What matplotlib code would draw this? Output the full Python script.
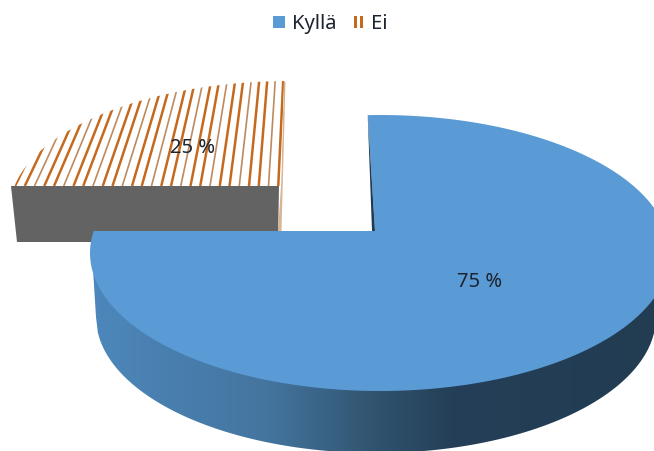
#!/usr/bin/env python3
import numpy as np
import matplotlib
matplotlib.use('Agg')
import matplotlib.pyplot as plt
from matplotlib.colors import LinearSegmentedColormap
from matplotlib.patches import Polygon, Rectangle

categories = ['Kyllä', 'Ei']
shares = [75, 25]
labels = ['75 %', '25 %']

plt.rcParams['font.family'] = ['Noto Sans', 'DejaVu Sans']

BLUE = '#5b9bd5'
ORANGE = '#c5691f'
TEXT = '#1c2430'


def ellipse_hit(vertex, ell, theta, lean):
    # ray from the slice tip out to the rim, theta clockwise from 12 o'clock
    cx, cy, rx, ry = ell
    dx = (np.sin(theta) + lean * np.cos(theta)) * rx
    dy = -np.cos(theta) * ry
    ox = (vertex[0] - cx) / rx
    oy = (vertex[1] - cy) / ry
    a = (dx / rx) ** 2 + (dy / ry) ** 2
    b = 2 * (ox * dx / rx + oy * dy / ry)
    c = ox ** 2 + oy ** 2 - 1
    t = (-b + np.sqrt(b ** 2 - 4 * a * c)) / (2 * a)
    return np.column_stack([vertex[0] + t * dx, vertex[1] + t * dy])


def slice_rim(vertex, ell, start, stop, lean):
    th = np.radians(np.linspace(start, stop, 200))
    return ellipse_hit(vertex, ell, th, lean)


fig = plt.figure(figsize=(6.54, 4.52), dpi=100)
ax = fig.add_axes([0, 0, 1, 1])
ax.set_xlim(0, 654)
ax.set_ylim(452, 0)
ax.axis('off')

blue_sweep = 360 * shares[0] / sum(shares)
ei_sweep = 360 * shares[1] / sum(shares)

# exploded slice (Ei)
ei_tip = (281, 187)
ei_ell = (290, 210, 280, 128)
ei_rim = slice_rim(ei_tip, ei_ell, blue_sweep, blue_sweep + ei_sweep, 0.013)
ei_poly = np.vstack([[ei_tip], ei_rim])

ax.add_patch(Polygon([(11, 187), (279, 187), (278, 243), (17, 243)],
                     fc='#636363', ec='none', zorder=2))
ax.add_patch(Polygon([ei_rim[-1], ei_rim[-1] + (1.5, 1), (281.5, 232), (278, 232), ei_tip],
                     fc='#d8b593', ec='none', zorder=2))
top = Polygon(ei_poly, fc='white', ec='none', zorder=3)
ax.add_patch(top)

# hatch lines lean toward one vanishing point
vp = (306, -401)
for i, x0 in enumerate(np.arange(15, 282, 9.75)):
    lw = 1.2 if i % 3 == 2 else 1.8
    col = '#bd8a60' if i % 3 == 2 else ORANGE
    ln, = ax.plot([x0, vp[0]], [187, vp[1]], color=col, lw=lw, zorder=4,
                  solid_capstyle='butt')
    ln.set_clip_path(top)

# main slice (Kyllä)
tip = (375, 232)
ell = (380, 254, 290, 138)
low = (376, 318, 280, 136)
rim = slice_rim(tip, ell, 0, blue_sweep, -0.03)

# side wall with left to right shading
xs = np.linspace(96, 654, 300)
low_y = low[1] + low[3] * np.sqrt(np.clip(1 - ((xs - low[0]) / low[2]) ** 2, 0, 1))
wall = Polygon(np.vstack([[(92, 254)], np.column_stack([xs, low_y]), [(656, 254)]]),
               fc='none', ec='none')
ax.add_patch(wall)
cmap = LinearSegmentedColormap.from_list('wall', [
    (0.0, '#4d87bb'), (0.31, '#44759f'), (0.5, '#31546f'),
    (0.64, '#243f57'), (1.0, '#223c52')])
im = ax.imshow(np.linspace(0, 1, 256)[None, :], cmap=cmap, extent=(92, 654, 452, 250),
               aspect='auto', zorder=5)
im.set_clip_path(wall)
ax.set_xlim(0, 654)
ax.set_ylim(452, 0)

ax.add_patch(Polygon(np.vstack([[tip], rim]), fc=BLUE, ec='none', zorder=6))
ax.add_patch(Polygon([rim[0], (372, 232), tip], fc='#1f3b54', ec='none', zorder=7))

ax.text(480, 282, labels[0], ha='center', va='center', fontsize=14.5, color=TEXT, zorder=8)
ax.text(193, 148, labels[1], ha='center', va='center', fontsize=14.5, color=TEXT, zorder=8)

# legend
ax.add_patch(Rectangle((273, 17), 12, 12, fc=BLUE, ec='none'))
ax.text(292, 24, categories[0], ha='left', va='center', fontsize=14.5, color=TEXT)
for bx in (354, 360):
    ax.add_patch(Rectangle((bx, 17), 3, 12, fc=ORANGE, ec='none'))
ax.text(371, 24, categories[1], ha='left', va='center', fontsize=14.5, color=TEXT)

fig.savefig('out.png', dpi=100)
